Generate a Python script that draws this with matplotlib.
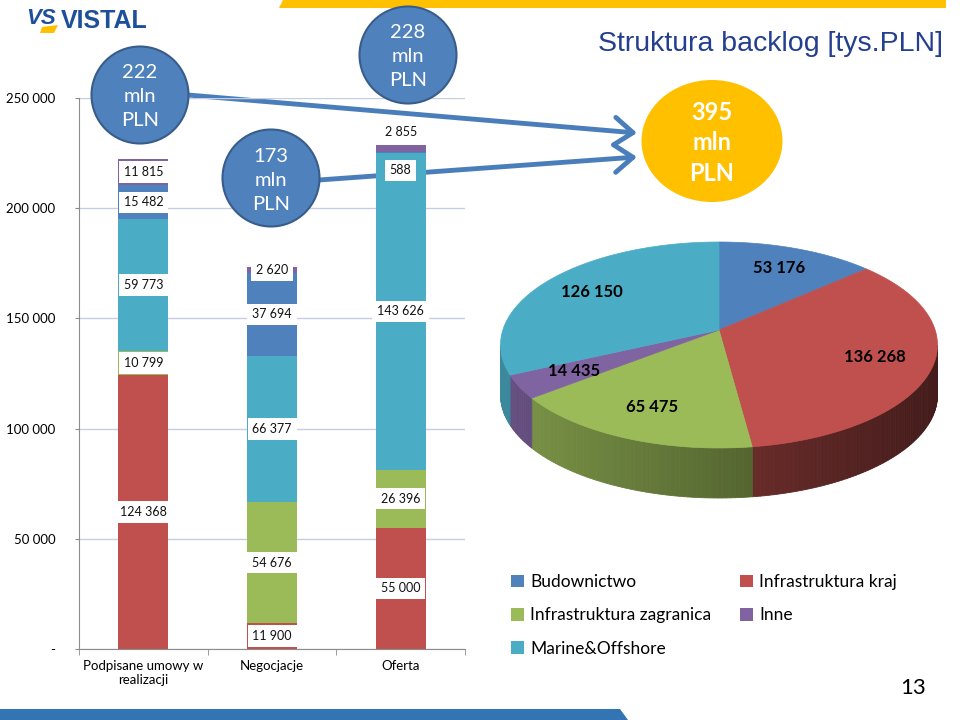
import numpy as np
import matplotlib
matplotlib.use("Agg")
import matplotlib.pyplot as plt
from matplotlib.patches import Ellipse, Polygon, FancyArrowPatch

plt.rcParams['font.family'] = ['Lato', 'DejaVu Sans']

# ---- data (tys. PLN) ----
categories = ["Podpisane umowy w\nrealizacji", "Negocjacje", "Oferta"]
kraj = [124368, 11900, 55000]          # Infrastruktura kraj
zagranica = [10799, 54676, 26396]      # Infrastruktura zagranica
marine = [59773, 66377, 143626]        # Marine&Offshore
budownictwo = [15482, 37694, 588]      # Budownictwo
inne = [11815, 2620, 2855]             # Inne

pie_labels = ["Budownictwo", "Infrastruktura kraj", "Infrastruktura zagranica", "Inne", "Marine&Offshore"]
pie_values = [53176, 136268, 65475, 14435, 126150]

yticks = [0, 50000, 100000, 150000, 200000, 250000]
ytick_labels = ["-", "50 000", "100 000", "150 000", "200 000", "250 000"]

colors = {"Budownictwo": "#4F81BD", "Infrastruktura kraj": "#C0504D",
          "Infrastruktura zagranica": "#9BBB59", "Inne": "#8064A2",
          "Marine&Offshore": "#4BACC6"}

stack = [("Infrastruktura kraj", kraj), ("Infrastruktura zagranica", zagranica),
         ("Marine&Offshore", marine), ("Budownictwo", budownictwo), ("Inne", inne)]

def fmt(v):
    return f"{v:,}".replace(",", " ")

fig = plt.figure(figsize=(9.6, 7.2), dpi=100)
fig.patch.set_facecolor("white")

# background layer (arrows behind bars)
back = fig.add_axes([0, 0, 1, 1], zorder=0)
back.set_xlim(0, 960); back.set_ylim(720, 0); back.axis("off")

# ---- stacked bars ----
ax = fig.add_axes([79/960, 1 - 649/720, (465-79)/960, (649-98)/720], zorder=1)
ax.set_facecolor("none")
x = np.arange(len(categories))
bottom = np.zeros(len(categories))
bars = {}
# labels moved by hand in the original (points)
offsets = {("Budownictwo", 2): -13, ("Inne", 2): 12}
for name, vals in stack:
    vals = np.array(vals)
    bars[name] = ax.bar(x, vals, 0.39, bottom=bottom, color=colors[name], label=name, zorder=2)
    for i in range(len(x)):
        off = offsets.get((name, i), 0)
        ax.annotate(fmt(vals[i]), xy=(x[i], bottom[i] + vals[i] / 2), xytext=(0, off),
                    textcoords="offset points", ha="center", va="center", fontsize=9,
                    color="#111111", zorder=3,
                    bbox=dict(boxstyle="square,pad=0.38", fc="white", ec="none"))
    bottom = bottom + vals
totals = bottom

ax.set_xlim(-0.5, 2.5)
ax.set_ylim(0, 250000)
ax.set_yticks(yticks)
ax.set_yticklabels(ytick_labels, fontsize=9.5)
ax.set_xticks(x)
ax.set_xticklabels(categories, fontsize=9.5, linespacing=1.2)
ax.set_xticks([-0.5, 0.5, 1.5, 2.5], minor=True)
ax.tick_params(axis="x", which="major", length=0, pad=8)
ax.tick_params(axis="x", which="minor", length=4, color="#8C8C8C")
ax.tick_params(axis="y", length=3, color="#8C8C8C", pad=14)
ax.yaxis.grid(True, color="#C8CEE2", lw=1)
ax.set_axisbelow(True)
for s in ["top", "right"]:
    ax.spines[s].set_visible(False)
for s in ["left", "bottom"]:
    ax.spines[s].set_color("#8C8C8C")

# ---- front layer ----
fr = fig.add_axes([0, 0, 1, 1], zorder=2)
fr.set_facecolor("none")
fr.set_xlim(0, 960); fr.set_ylim(720, 0); fr.axis("off")

# slide decorations
fr.add_patch(Polygon([(283, 0), (946, 0), (946, 8), (279, 8)], closed=True, fc="#FFC000", ec="none"))
fr.add_patch(Polygon([(0, 709), (620, 709), (628, 720), (0, 720)], closed=True, fc="#3374B5", ec="none"))
fr.text(61, 21, "VISTAL", fontsize=18, fontweight="bold", color="#1D4F9C",
        family="Liberation Sans", va="center", ha="left")
fr.text(26, 19, "VS", fontsize=16, fontweight="bold", color="#1D4F9C",
        family="Liberation Sans", va="center", ha="left", style="italic")
fr.add_patch(Polygon([(42, 27), (58, 25), (54, 33), (40, 33)], closed=True, fc="#FFC000", ec="none"))
fr.text(943, 44, "Struktura backlog [tys.PLN]", fontsize=20.5, color="#243F8F",
        family="Liberation Sans", ha="right", va="center")
fr.text(913, 688, "13", fontsize=16, color="black", ha="center", va="center")

# arrows to the total
arrow_kw = dict(arrowstyle="->,head_length=0.6,head_width=0.45", mutation_scale=22,
                lw=3.5, color="#4A7EBB", shrinkA=0, shrinkB=0)
back.add_patch(FancyArrowPatch((188, 95), (637, 133), **arrow_kw))
back.add_patch(FancyArrowPatch((319, 180), (637, 157), **arrow_kw))

# bubbles with totals
bubble_pos = [(140, 95), (271, 178), (408, 55)]
for (bx, by), t in zip(bubble_pos, totals):
    fr.add_patch(Ellipse((bx, by), 97, 97, fc="#4F81BD", ec="#385D8A", lw=1.5))
    fr.text(bx, by + 2, f"{int(t // 1000)}\nmln\nPLN", color="white", fontsize=14.5,
            ha="center", va="center", linespacing=1.5)

pie_total = sum(pie_values)
fr.add_patch(Ellipse((712, 141), 141, 122, fc="#FFC000", ec="none"))
fr.text(712, 143, f"{int(pie_total // 1000)}\nmln\nPLN", color="white", fontsize=17,
        fontweight="bold", ha="center", va="center", linespacing=1.4)

# ---- 3D-looking pie ----
cx, cy, A, B, d, h = 719, 330, 1485, 692.6, 6.87, 50

def proj(r, th):
    u = r * np.sin(th)
    v = -r * np.cos(th)
    return cx + A * u / (d - v), cy + B * v / (d - v)

vals = np.array(pie_values, dtype=float)
edges = np.concatenate([[0], np.cumsum(vals) / vals.sum()]) * 2 * np.pi
th_lo = np.arccos(-1 / d)
th_hi = 2 * np.pi - th_lo
xl, _ = proj(1, th_hi)
xr, _ = proj(1, th_lo)

def shade(c, f):
    rgb = np.array(matplotlib.colors.to_rgb(c))
    return tuple(np.clip(rgb * f, 0, 1))

for name, a, b in zip(pie_labels, edges[:-1], edges[1:]):
    lo, hi = max(a, th_lo), min(b, th_hi)
    if hi > lo:
        ts = np.linspace(lo, hi, max(int((hi - lo) * 60), 2))
        for t1, t2 in zip(ts[:-1], ts[1:]):
            x1, y1 = proj(1, t1)
            x2, y2 = proj(1, t2)
            f = 0.8 - 0.45 * ((x1 + x2) / 2 - xl) / (xr - xl)
            c = shade(colors[name], f)
            fr.add_patch(Polygon([(x1, y1), (x2, y2), (x2, y2 + h), (x1, y1 + h)],
                                 closed=True, fc=c, ec=c, lw=0.6, zorder=2))

for name, a, b, v in zip(pie_labels, edges[:-1], edges[1:], pie_values):
    ts = np.linspace(a, b, 100)
    px, py = proj(1, ts)
    pts = [(cx, cy)] + list(zip(px, py))
    fr.add_patch(Polygon(pts, closed=True, fc=colors[name], ec=colors[name], lw=0.5, zorder=3))
    lx, ly = proj(0.74, (a + b) / 2)
    fr.text(lx, ly, fmt(v), fontsize=12, fontweight="bold", color="black",
            ha="center", va="center", zorder=4)

# ---- legend ----
order = ["Budownictwo", "Infrastruktura zagranica", "Marine&Offshore", "Infrastruktura kraj", "Inne"]
fig.legend([bars[n] for n in order], order, ncol=2, loc="upper left",
           bbox_to_anchor=(511/960, 1 - 574/720), frameon=False, fontsize=12.5,
           handlelength=0.75, handleheight=0.75, handletextpad=0.35,
           columnspacing=1.65, labelspacing=1.0, borderpad=0, borderaxespad=0)

fig.savefig("out.png", dpi=100)
